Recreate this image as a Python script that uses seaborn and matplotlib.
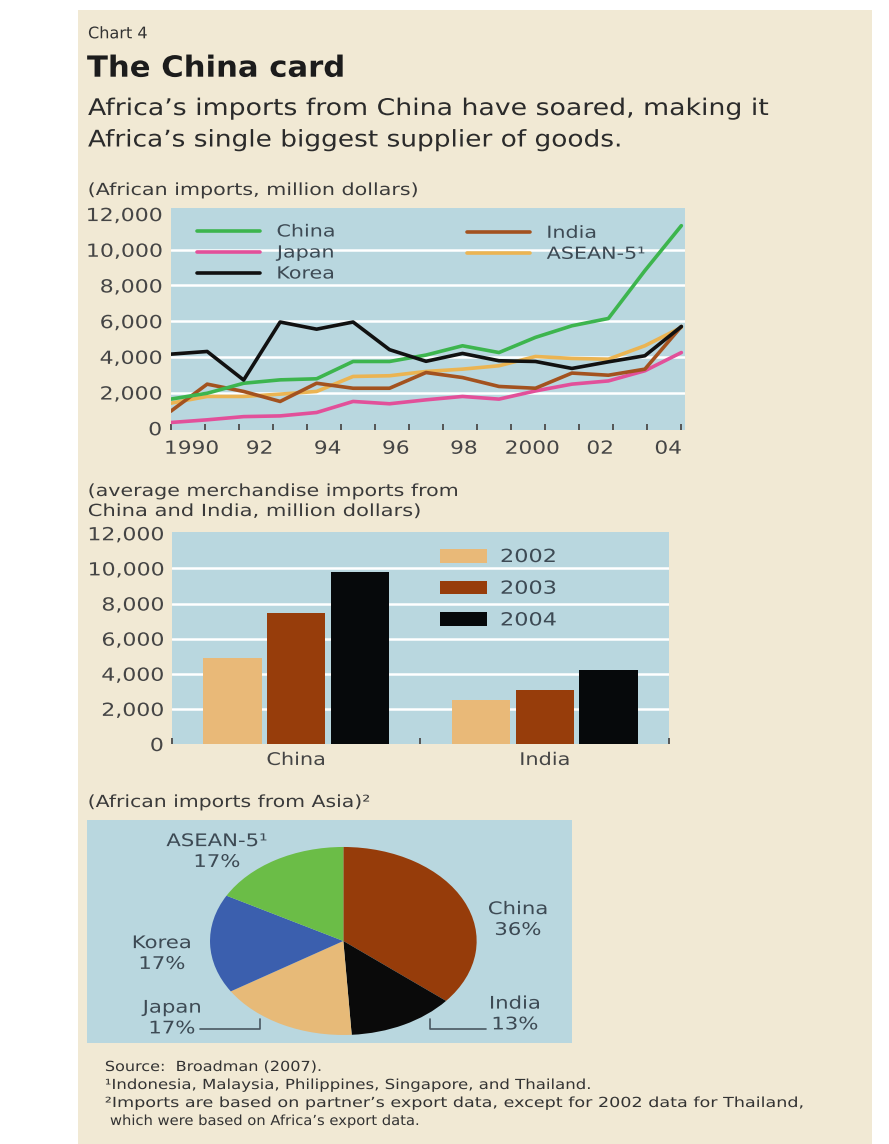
import matplotlib
matplotlib.use("Agg")
import numpy as np
import pandas as pd
import matplotlib.pyplot as plt
import seaborn as sns
from matplotlib.patheffects import AbstractPathEffect
from matplotlib.transforms import Affine2D
from matplotlib.lines import Line2D
from matplotlib.patches import Patch, Rectangle

# ---------------- data ----------------
years = list(range(1990, 2005))
china = [1630, 1960, 2520, 2710, 2770, 3740, 3740, 4100, 4620, 4240, 5090, 5740, 6150, 8830, 11350]
japan = [320, 470, 650, 690, 880, 1500, 1370, 1590, 1780, 1630, 2090, 2470, 2650, 3220, 4240]
korea = [4150, 4300, 2700, 5950, 5550, 5950, 4400, 3750, 4190, 3780, 3740, 3350, 3720, 4060, 5700]
india = [950, 2470, 2060, 1500, 2520, 2240, 2240, 3120, 2840, 2340, 2240, 3090, 2970, 3310, 5700]
asean = [1400, 1780, 1780, 1910, 2060, 2900, 2940, 3180, 3310, 3500, 4020, 3910, 3870, 4620, 5650]
year_labels = ["1990", "92", "94", "96", "98", "2000", "02", "04"]
y_ticks = [0, 2000, 4000, 6000, 8000, 10000, 12000]

bar_partners = ["China", "India"]
bar_years = ["2002", "2003", "2004"]
bar_china = [4900, 7450, 9800]
bar_india = [2500, 3100, 4200]

pie_names = ["China", "India", "Japan", "Korea", "ASEAN-5\u00b9"]
pie_shares = [36, 13, 17, 17, 17]

# ---------------- style ----------------
W, H = 889, 1144
CREAM = "#f1e9d4"
PANEL = "#b9d7df"
SLATE = "#3d4a54"
TICK = "#454545"
line_colors = {"China": "#3db54e", "Japan": "#e2509a", "Korea": "#111111",
               "India": "#a3521f", "ASEAN-5\u00b9": "#ebb452"}
bar_colors = ["#e9b978", "#973d0b", "#06090b"]
pie_colors = ["#963c0a", "#0a0a0a", "#e7ba78", "#3b5fae", "#6bbd47"]

sns.set_theme(style="white", rc={"axes.facecolor": PANEL, "figure.facecolor": "white"})
plt.rcParams["font.family"] = ["DejaVu Sans"]


class Widen(AbstractPathEffect):
    """Draw glyphs stretched horizontally about a left/center/right anchor."""

    def __init__(self, sx, anchor="left"):
        super().__init__()
        self.sx = sx
        self.anchor = anchor

    def draw_path(self, renderer, gc, tpath, affine, rgbFace=None):
        ext = tpath.get_extents(affine)
        x0 = {"left": ext.x0, "center": 0.5 * (ext.x0 + ext.x1), "right": ext.x1}[self.anchor]
        tr = affine + Affine2D().translate(-x0, 0).scale(self.sx, 1).translate(x0, 0)
        renderer.draw_path(gc, tpath, tr, rgbFace)


def fx(px):
    return px / W


def fy(py):
    return 1 - py / H


fig = plt.figure(figsize=(W / 100, H / 100), dpi=100)
fig.patches.append(Rectangle((fx(78), 0), fx(872) - fx(78), fy(10), transform=fig.transFigure,
                             facecolor=CREAM, edgecolor="none", zorder=-10))
renderer = fig.canvas.get_renderer()


def put(s, x, y, size, ha="left", va="baseline", sx=1.4, width=None, **kw):
    t = fig.text(fx(x), fy(y), s, fontsize=size, ha=ha, va=va, **kw)
    if width is not None:
        sx = width / t.get_window_extent(renderer).width
    t.set_path_effects([Widen(sx, ha)])
    return t


# ---------------- headings ----------------
put("Chart 4", 88, 38.3, 11.5, width=60, color="#333333")
put("The China card", 87, 76.7, 21, width=258, weight="bold", color="#1c1c1c")
put("Africa\u2019s imports from China have soared, making it", 88, 115, 16.5, width=680, color="#2b2b2b")
put("Africa\u2019s single biggest supplier of goods.", 88, 146.5, 16.5, width=533, color="#2b2b2b")
put("(African imports, million dollars)", 88, 195, 12, width=330, color="#3a3a3a")
put("(average merchandise imports from", 88, 496, 12, width=370, color="#3a3a3a")
put("China and India, million dollars)", 88, 516, 12, width=332, color="#3a3a3a")
put("(African imports from Asia)\u00b2", 88, 807, 12, width=282, color="#3a3a3a")

# ---------------- line chart ----------------
ax1 = fig.add_axes([fx(170.7), fy(430), fx(685) - fx(170.7), (430 - 208) / H])
series = {"China": china, "Japan": japan, "Korea": korea, "India": india, "ASEAN-5\u00b9": asean}
long_df = pd.DataFrame({
    "year": years * len(series),
    "value": sum(series.values(), []),
    "partner": sum([[k] * len(years) for k in series], []),
})
draw_order = ["Japan", "ASEAN-5\u00b9", "India", "China", "Korea"]
sns.lineplot(data=long_df, x="year", y="value", hue="partner", hue_order=draw_order,
             palette=line_colors, linewidth=2.6, legend=False, ax=ax1)
ax1.set_xlim(1990, 2004.1)
ax1.set_ylim(-100, 12340)
ax1.set_xlabel("")
ax1.set_ylabel("")
ax1.set_yticks(y_ticks)
ax1.set_yticklabels([f"{v:,}" for v in y_ticks])
step = 14 / 15
ax1.set_xticks(np.linspace(1990, 2004, 16), minor=True)
ax1.set_xticks([1990 + 2 * j * step + 0.57 for j in range(len(year_labels))])
ax1.set_xticklabels(year_labels)
ax1.tick_params(axis="x", which="minor", direction="in", length=4, width=1.4, color="#555555", bottom=True)
ax1.tick_params(axis="x", which="major", length=0, pad=7, labelsize=13, labelcolor=TICK)
ax1.tick_params(axis="y", length=0, pad=6.5, labelsize=13, labelcolor=TICK)
sns.despine(ax=ax1, left=True, bottom=True)
ax1.grid(axis="y", color="white", linewidth=1.8)
ax1.grid(axis="x", visible=False)
ax1.set_axisbelow(True)
for tick, v in zip(ax1.yaxis.get_major_ticks(), y_ticks):
    tick.gridline.set_visible(v not in (0, 12000))

leg_kw = dict(frameon=False, borderpad=0, borderaxespad=0, fontsize=12, handlelength=3.8,
              handletextpad=1.0, labelspacing=0.18, loc="upper left",
              bbox_transform=fig.transFigure, labelcolor=SLATE)
left_names = ["China", "Japan", "Korea"]
right_names = ["India", "ASEAN-5\u00b9"]
leg1 = ax1.legend([Line2D([], [], color=line_colors[n], lw=2.6) for n in left_names], left_names,
                  bbox_to_anchor=(fx(196.7), fy(222.5)), **leg_kw)
ax1.add_artist(leg1)
leg2 = ax1.legend([Line2D([], [], color=line_colors[n], lw=2.6) for n in right_names], right_names,
                  bbox_to_anchor=(fx(466.7), fy(223.8)), **leg_kw)
for lg in (leg1, leg2):
    for t in lg.get_texts():
        t.set_path_effects([Widen(1.24, "left")])

# ---------------- bar chart ----------------
ax2 = fig.add_axes([fx(171.7), fy(744), fx(669.3) - fx(171.7), (744 - 531.7) / H])
bar_df = pd.DataFrame({
    "partner": [p for p in bar_partners for _ in bar_years],
    "year": bar_years * len(bar_partners),
    "value": bar_china + bar_india,
})
sns.barplot(data=bar_df, x="partner", y="value", hue="year", order=bar_partners,
            hue_order=bar_years, palette=bar_colors, width=0.77, gap=0.08, saturation=1,
            errorbar=None, legend=False, ax=ax2, linewidth=0)
ax2.set_xlim(-0.5, 1.5)
ax2.set_ylim(0, 12090)
ax2.set_xlabel("")
ax2.set_ylabel("")
ax2.set_yticks(y_ticks)
ax2.set_yticklabels([f"{v:,}" for v in y_ticks])
ax2.set_xticks([-0.5, 0.5, 1.5], minor=True)
ax2.tick_params(axis="x", which="minor", direction="in", length=4, width=1.4, color="#555555", bottom=True)
ax2.tick_params(axis="x", which="major", length=0, pad=5, labelsize=12.5, labelcolor=TICK)
ax2.tick_params(axis="y", length=0, pad=6, labelsize=13, labelcolor=TICK)
sns.despine(ax=ax2, left=True, bottom=True)
ax2.grid(axis="y", color="white", linewidth=1.8)
ax2.grid(axis="x", visible=False)
ax2.set_axisbelow(True)
for tick, v in zip(ax2.yaxis.get_major_ticks(), y_ticks):
    tick.gridline.set_visible(v not in (0, 12000))

leg3 = ax2.legend([Patch(facecolor=c, edgecolor="none") for c in bar_colors], bar_years,
                  frameon=False, borderpad=0, borderaxespad=0, fontsize=13, handlelength=2.6,
                  handleheight=0.78, handletextpad=0.74, labelspacing=0.76, loc="upper left",
                  bbox_to_anchor=(fx(440), fy(548)), bbox_transform=fig.transFigure,
                  labelcolor=SLATE)
for t in leg3.get_texts():
    t.set_path_effects([Widen(1.24, "left")])

# ---------------- pie chart ----------------
ax3 = fig.add_axes([fx(86.7), fy(1042.5), fx(571.7) - fx(86.7), (1042.5 - 820) / H])
ax3.set_facecolor(PANEL)
ax3.pie(pie_shares, colors=pie_colors, startangle=90, counterclock=False, frame=True,
        wedgeprops=dict(linewidth=0))
ax3.set_aspect("auto")
ax3.set_xlim(-1.925, 1.713)
ax3.set_ylim(-1.080, 1.287)
ax3.set_xticks([])
ax3.set_yticks([])
sns.despine(ax=ax3, left=True, bottom=True)

pie_label_pos = {"China": (518, 919.5), "India": (515, 1014), "Japan": (172, 1018),
                 "Korea": (162, 953.5), "ASEAN-5\u00b9": (217, 851.5)}
for name, share in zip(pie_names, pie_shares):
    x, y = pie_label_pos[name]
    put(f"{name}\n{share}%", x, y, 12.5, ha="center", va="center", sx=1.22,
        color=SLATE, linespacing=1.2)

for xs, ys in (([200, 260, 260], [1028.5, 1028.5, 1018.5]),
               ([486, 430, 430], [1028.5, 1028.5, 1018.5])):
    fig.add_artist(Line2D([fx(v) for v in xs], [fy(v) for v in ys], transform=fig.transFigure,
                          color="#4a5862", lw=1.2))

# ---------------- notes ----------------
put("Source:  Broadman (2007).", 105, 1071, 10, width=217, color="#333333")
put("\u00b9Indonesia, Malaysia, Philippines, Singapore, and Thailand.", 105, 1089, 10,
    width=487, color="#333333")
put("\u00b2Imports are based on partner\u2019s export data, except for 2002 data for Thailand,",
    105, 1107, 10, width=700, color="#333333")
put("which were based on Africa\u2019s export data.", 110, 1125, 10, width=310, color="#333333")

# stretched tick labels
fig.canvas.draw()
for ax in (ax1, ax2):
    for t in ax.get_yticklabels():
        t.set_path_effects([Widen(1.22, "right")])
    for t in ax.get_xticklabels():
        t.set_path_effects([Widen(1.2, "center")])

fig.savefig("out.png", dpi=100)
